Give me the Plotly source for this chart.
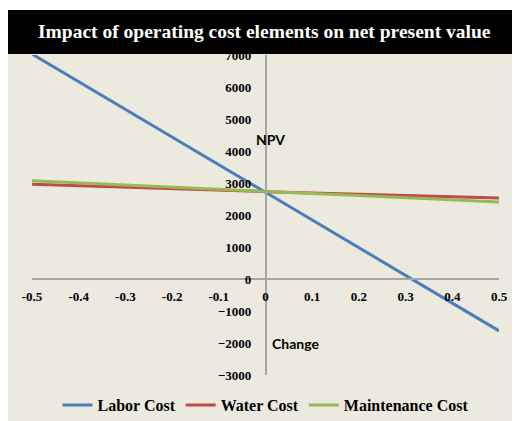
import plotly.graph_objects as go

# data
change = [-0.5, -0.4, -0.3, -0.2, -0.1, 0, 0.1, 0.2, 0.3, 0.4, 0.5]
labor_cost = [7030, 6160, 5290, 4430, 3570, 2710, 1840, 980, 110, -750, -1620]
water_cost = [2960, 2910, 2870, 2820, 2780, 2730, 2690, 2650, 2610, 2570, 2530]
maintenance_cost = [3070, 3000, 2940, 2870, 2810, 2740, 2670, 2610, 2540, 2480, 2410]

x_ticks = [-0.5, -0.4, -0.3, -0.2, -0.1, 0, 0.1, 0.2, 0.3, 0.4, 0.5]
x_tick_text = ["-0.5", "-0.4", "-0.3", "-0.2", "-0.1", "0", "0.1", "0.2", "0.3", "0.4", "0.5"]
y_ticks = [-3000, -2000, -1000, 0, 1000, 2000, 3000, 4000, 5000, 6000, 7000]

BG = "#ECE9DF"
SERIF = "Liberation Serif"

fig = go.Figure()

series = [
    ("Labor Cost", labor_cost, "#4A7EBB"),
    ("Water Cost", water_cost, "#BE4B48"),
    ("Maintenance Cost", maintenance_cost, "#98B954"),
]
for name, values, color in series:
    fig.add_trace(go.Scatter(
        x=change, y=values, name=name, mode="lines",
        line=dict(color=color, width=3),
    ))

# page body adds an 8px margin, so the figure is offset by 8px
fig.update_layout(
    width=512, height=413,
    margin=dict(l=24, r=21, t=47, b=46, autoexpand=False),
    paper_bgcolor=BG, plot_bgcolor="rgba(0,0,0,0)",
    showlegend=True,
    legend=dict(
        orientation="h", x=0.5, xanchor="center", y=-0.094, yanchor="middle",
        font=dict(family=SERIF, size=16, color="black", weight="bold"),
        bgcolor="rgba(0,0,0,0)", itemwidth=30,
    ),
    xaxis=dict(
        range=[-0.5, 0.5], domain=[0, 1], anchor="free", position=0.3,
        tickvals=x_ticks, ticktext=x_tick_text, showgrid=False, zeroline=False,
        showline=True, linecolor="#A5A5A5", linewidth=1.5, ticks="",
        ticklabelstandoff=6,
        tickfont=dict(family=SERIF, size=13, color="black", weight="bold"),
    ),
    yaxis=dict(
        range=[-3000, 7000], domain=[0, 1], anchor="free", position=0.5,
        tickvals=y_ticks, showgrid=False, zeroline=False,
        showline=True, linecolor="#A5A5A5", linewidth=1.5, ticks="",
        ticklabelstandoff=11,
        tickfont=dict(family=SERIF, size=13, color="black", weight="bold"),
    ),
    shapes=[
        # thin white strip at the top edge
        dict(type="rect", xref="paper", yref="paper", x0=-0.1, x1=1.2,
             y0=1.1406, y1=1.25, fillcolor="white", line_width=0, layer="above"),
        # black title banner
        dict(type="rect", xref="paper", yref="paper", x0=-0.1, x1=1.2,
             y0=1.003, y1=1.1406, fillcolor="black", line_width=0, layer="above"),
    ],
    annotations=[
        dict(text="Impact of operating cost elements on net present value",
             xref="paper", yref="paper", x=0.498, y=1.075, yanchor="middle",
             showarrow=False,
             font=dict(family=SERIF, size=19.5, color="white", weight="bold")),
        dict(text="NPV", xref="paper", yref="paper", x=0.51, y=0.7375,
             yanchor="middle", showarrow=False,
             font=dict(family="Lato", size=14, color="black", weight="bold")),
        dict(text="Change", xref="paper", yref="paper", x=0.565, y=0.097,
             yanchor="middle", showarrow=False,
             font=dict(family="Lato", size=14, color="black", weight="bold")),
    ],
)

fig.write_html("out.html")
